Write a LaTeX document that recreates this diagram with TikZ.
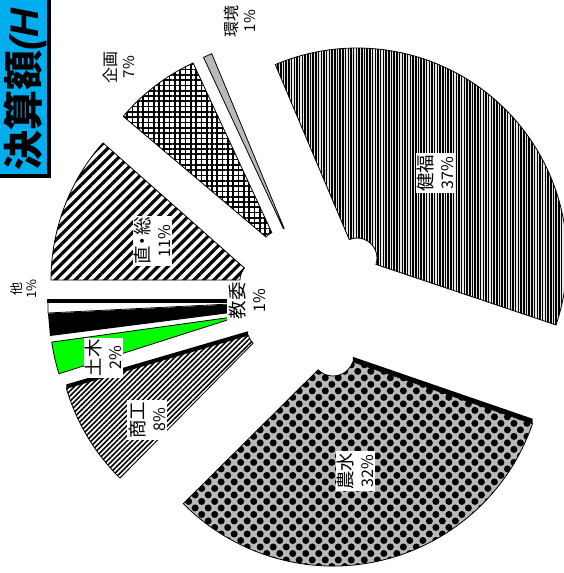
\documentclass[tikz,border=0pt]{standalone}
\usepackage{fontspec}
\newfontfamily\jp{Noto Sans CJK JP}
\newfontfamily\ars{Liberation Sans}
\usetikzlibrary{patterns.meta,calc}
\begin{document}
\begin{tikzpicture}[x=1pt,y=-1pt,
  wedge/.style n args={5}{insert path={($(#1)+(#2:#5)$) -- ($(#1)+(#2:#4)$) arc[start angle=#2,end angle=#3,radius=#4] -- ($(#1)+(#3:#5)$) arc[start angle=#3,end angle=#2,radius=#5] -- cycle}},
  slice/.style={draw=black, line width=0.8pt, preaction={fill=white}},
  band/.style={fill=black},
  inlbl/.style={rotate=90, fill=white, align=center, inner sep=1.5pt, font=\jp\fontsize{18.5}{21}\selectfont},
  outlbl/.style={rotate=90, align=center, inner sep=1pt, font=\jp\fontsize{16}{18}\selectfont}]
\useasboundingbox (0,0) rectangle (564,573);
% apex coordinates of the exploded slices
\coordinate (hf) at (357,258);
\coordinate (ns) at (333,355);
\coordinate (sk) at (266,330);
\coordinate (db) at (240,316);
\coordinate (cs) at (258,280);
\coordinate (kk) at (279,248);
\coordinate (kj) at (291,245);
% title
\fill[black] (-5,-5) rectangle (51,178);
\filldraw[fill=cyan, draw=black, line width=0.6pt] (-5,-8) rectangle (47.5,174.5);
\node[rotate=90, anchor=west, inner sep=0pt, font=\jp\bfseries\fontsize{40}{40}\selectfont] (title) at (25,171) {決算額{\ars\bfseries\itshape (H}};
% 3D bands
\fill[band] ($(ns)+(19:21)$) -- ($(ns)+(19:211)$) -- ++(0,-5) -- ($(ns)+(19:21)+(0,-5)$) -- cycle;
\fill[band] ($(sk)+(163.7:18.5)$) -- ($(sk)+(163.7:208)$) -- ++(0,-4) -- ($(sk)+(163.7:18.5)+(0,-4)$) -- cycle;
% slices
\draw[slice, preaction={fill=gray!20}, pattern={Lines[angle=90,distance=2.7pt,line width=1.45pt]}, wedge={hf}{18.6}{-112.9}{210}{20}];
\draw[slice, preaction={fill=gray!55}, pattern={Dots[angle=45,distance=9.2pt,radius=3.5pt]}, wedge={ns}{19}{135.2}{211}{21}];
\draw[slice, pattern={Lines[angle=45,distance=3.6pt,line width=1.6pt]}, wedge={sk}{134.6}{163.7}{208}{18.5}];
\draw[slice, fill=green, wedge={db}{162.3}{172.1}{190}{12}];
\fill[black] (47,298.5) -- (230,298.5) -- (230,302.5) -- (47,302.5) -- cycle;
\filldraw[fill=white, draw=black, line width=0.8pt] (48,302.5) -- (230,302.5) -- (230,304) -- (48,313) -- cycle;
\fill[black] (48,313.5) -- (230,304.5) -- (230,313) -- (50,336) -- cycle;
\draw[slice, pattern={Lines[angle=45,distance=7pt,line width=3.2pt]}, wedge={cs}{180}{221.5}{207}{18}];
\draw[slice, pattern={Hatch[angle=0,distance=5.3pt,line width=1.7pt]}, wedge={kk}{-139.8}{-114.9}{204}{17}];
\draw[slice, fill=gray!55, wedge={kj}{-115}{-112.5}{207}{18}];
% labels
\node[inlbl] (l1) at (435.5,173) {健福\\{\fontsize{16}{21}\selectfont 37\%}};
\node[inlbl] (l2) at (355.5,471) {農水\\{\fontsize{16}{21}\selectfont 32\%}};
\node[inlbl] (l3) at (152.5,241) {直\kern-4pt・\kern-4pt総\\{\fontsize{16}{21}\selectfont 11\%}};
\node[inlbl] (l4) at (147,420) {商工\\{\fontsize{16}{21}\selectfont 8\%}};
\node[inlbl] (l5) at (103.5,357.5) {土木\\{\fontsize{16}{21}\selectfont 2\%}};
\node[inlbl] (l6) at (247,300.5) {教委\\{\fontsize{16}{21}\selectfont 1\%}};
\node[outlbl] (l7) at (119,67) {企画\\{\fontsize{15}{18}\selectfont 7\%}};
\node[outlbl] (l8) at (240,21) {環境\\{\fontsize{15}{18}\selectfont 1\%}};
\node[outlbl, font=\jp\fontsize{13}{15}\selectfont] (l9) at (24,289) {他\\1\%};
\end{tikzpicture}
\end{document}
